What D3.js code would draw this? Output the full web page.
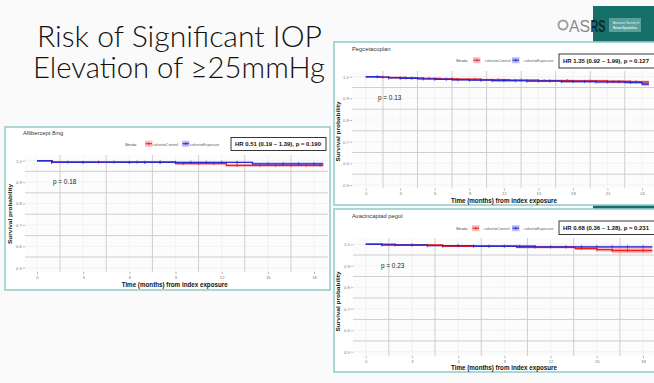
<!DOCTYPE html>
<html><head><meta charset="utf-8">
<script src="https://cdn.jsdelivr.net/npm/d3@7"></script>
<style>html,body{margin:0;padding:0;background:#fafafa;} svg{display:block;}</style>
</head><body>
<svg id="c" width="654" height="383"></svg>
<script>
// ---------------- DATA ----------------
const slideTitle = ["Risk of Significant IOP", "Elevation of \u226525mmHg"];
const strata = ["cohort=Control", "cohort=Exposure"];
const panelNames = ["Aflibercept 8mg", "Pegcetacoplan", "Avacincaptad pegol"];
const hrLabels = ["HR 0.51 (0.19 \u2013 1.39), p = 0.190", "HR 1.35 (0.92 \u2013 1.99), p = 0.127", "HR 0.68 (0.36 \u2013 1.28), p = 0.231"];
const pLabels = ["p = 0.18", "p = 0.13", "p = 0.23"];
const yTicks = [0.5, 0.6, 0.7, 0.8, 0.9, 1.0];
const xTicks18 = [0, 3, 6, 9, 12, 15, 18];
const xTicks24 = [0, 3, 6, 9, 12, 15, 18, 21, 24];
const xTitle = "Time (months) from index exposure";
const yTitle = "Survival probability";

// Aflibercept 8mg
const aflCtrlTime = [0, 1.0, 9.0, 12.3, 18.6];
const aflCtrlSurv = [1, 0.994, 0.987, 0.978, 0.978];
const aflCtrlLow  = [1, 0.990, 0.981, 0.970, 0.970];
const aflCtrlHigh = [1, 0.997, 0.992, 0.986, 0.986];
const aflCtrlCens = [2, 4, 5, 6.5, 8, 9.5, 10.5, 11.5, 13, 14.5, 15.5, 16.5, 17.5, 18.4];
const aflExpTime = [0, 0.95, 14.0, 18.6];
const aflExpSurv = [1, 0.992, 0.985, 0.985];
const aflExpLow  = [1, 0.989, 0.977, 0.977];
const aflExpHigh = [1, 0.995, 0.993, 0.993];
const aflExpCens = [0.95, 3, 6, 7, 8, 9, 10, 11, 12, 13, 15, 16, 17, 18];

// Pegcetacoplan
const pegCtrlTime = [0, 1.0, 2.0, 3.5, 5.0, 6.5, 8.0, 10.0, 12.5, 15.0, 18.0, 21.0, 23.0, 24.6];
const pegCtrlSurv = [1, 0.998, 0.996, 0.994, 0.992, 0.990, 0.988, 0.986, 0.984, 0.982, 0.980, 0.978, 0.976, 0.976];
const pegCtrlLow  = [1, 0.997, 0.994, 0.991, 0.989, 0.986, 0.984, 0.982, 0.979, 0.977, 0.974, 0.971, 0.969, 0.969];
const pegCtrlHigh = [1, 0.999, 0.998, 0.997, 0.995, 0.994, 0.992, 0.990, 0.989, 0.987, 0.986, 0.985, 0.983, 0.983];
const pegCtrlCens = [1.5, 3.5, 5.5, 7.5, 9.5, 11.5, 13.5, 15.5, 17.5, 19.5, 21.5, 23.5];
const pegExpTime = [0, 1.3, 2.0, 3.0, 4.5, 6.0, 7.5, 9.0, 11.0, 14.0, 17.0, 20.0, 22.5, 24.0, 24.6];
const pegExpSurv = [1, 0.998, 0.995, 0.993, 0.990, 0.988, 0.986, 0.984, 0.982, 0.980, 0.978, 0.976, 0.974, 0.966, 0.966];
const pegExpLow  = [1, 0.997, 0.993, 0.990, 0.987, 0.985, 0.982, 0.980, 0.978, 0.975, 0.973, 0.970, 0.968, 0.957, 0.957];
const pegExpHigh = [1, 0.999, 0.997, 0.996, 0.993, 0.991, 0.990, 0.988, 0.986, 0.985, 0.983, 0.982, 0.980, 0.975, 0.975];
const pegExpCens = [1, 2, 3, 4, 5, 6, 7, 8, 9, 10, 11, 12, 13, 14, 15, 16, 17, 18, 19, 20, 21, 22, 23];

// Avacincaptad pegol
const avaCtrlTime = [0, 1.9, 5.0, 9.8, 13.6, 15.0, 16.0, 18.6];
const avaCtrlSurv = [1, 0.997, 0.991, 0.986, 0.980, 0.975, 0.971, 0.971];
const avaCtrlLow  = [1, 0.994, 0.987, 0.981, 0.973, 0.966, 0.958, 0.958];
const avaCtrlHigh = [1, 0.999, 0.995, 0.991, 0.987, 0.984, 0.983, 0.983];
const avaCtrlCens = [1.9, 5, 14, 15, 16, 17, 18];
const avaExpTime = [0, 1.05, 4.0, 7.0, 11.0, 18.6];
const avaExpSurv = [1, 0.997, 0.994, 0.991, 0.988, 0.988];
const avaExpLow  = [1, 0.995, 0.991, 0.987, 0.983, 0.983];
const avaExpHigh = [1, 0.999, 0.997, 0.995, 0.993, 0.993];
const avaExpCens = [1.05, 3, 4, 6, 7, 8, 9, 10, 11, 12, 13, 14, 15, 16, 17, 18];

// ---------------- STYLE / LAYOUT ----------------
const FONT = "'Liberation Sans', Arial, sans-serif";
const RED = "#f01e1e", BLUE = "#2a2ad0";
const RED_FILL = "rgba(245,90,90,0.40)", BLUE_FILL = "rgba(90,90,245,0.40)";

const svg = d3.select("#c");
svg.append("rect").attr("width", 654).attr("height", 383).attr("fill", "#fafafa");

// slide title
const titleCfg = [{x: 37, y: 47, len: 285}, {x: 33, y: 78, len: 292}];
slideTitle.forEach((t, i) => {
  svg.append("text").attr("x", titleCfg[i].x).attr("y", titleCfg[i].y)
    .attr("font-family", "Lato, 'Open Sans', sans-serif").attr("font-weight", 300)
    .attr("font-size", 30).attr("fill", "#111")
    .attr("textLength", titleCfg[i].len).attr("lengthAdjust", "spacingAndGlyphs")
    .text(t);
});

// logo
svg.append("rect").attr("x", 593).attr("y", 6).attr("width", 61).attr("height", 36).attr("fill", "#176f6a");
svg.append("rect").attr("x", 593).attr("y", 205).attr("width", 61).attr("height", 4).attr("fill", "#176f6a");
svg.append("rect").attr("x", 609).attr("y", 18).attr("width", 32).attr("height", 14).attr("fill", "#58a09b");
svg.append("circle").attr("cx", 563).attr("cy", 25).attr("r", 4.5).attr("fill", "none").attr("stroke", "#a0a0a0").attr("stroke-width", 2);
svg.append("text").attr("x", 569).attr("y", 31.5).attr("font-family", FONT).attr("font-size", 16)
  .attr("fill", "#8a8a8a").attr("textLength", 21).attr("lengthAdjust", "spacingAndGlyphs").text("AS");
svg.append("text").attr("x", 590.5).attr("y", 31.5).attr("font-family", FONT).attr("font-size", 16).attr("font-weight", "bold")
  .attr("fill", "#0e2a30").attr("textLength", 15).attr("lengthAdjust", "spacingAndGlyphs").text("RS");
svg.append("text").attr("x", 613).attr("y", 24).attr("font-family", FONT).attr("font-size", 3.2).attr("fill", "#e8f3f2")
  .attr("textLength", 26).attr("lengthAdjust", "spacingAndGlyphs").text("American Society of");
svg.append("text").attr("x", 613).attr("y", 29).attr("font-family", FONT).attr("font-size", 3.2).attr("font-weight", "bold").attr("fill", "#e8f3f2")
  .attr("textLength", 24).attr("lengthAdjust", "spacingAndGlyphs").text("Retina Specialists");

function mk(t, s, lo, hi) { return t.map((d, i) => ({t: d, s: s[i], lo: lo[i], hi: hi[i]})); }

const panels = [
  {
    frame: [5, 127, 325, 163], plot: [25, 155, 328, 272],
    x0: 37, xMaxPx: 314, xTicks: xTicks18, y10: 160.7, y05: 267.7,
    title: [23, 135], legendY: 145.5, legend: [125, 145, 152.5, 182, 190],
    hr: [231, 137.5, 95, 13], p: [53, 184], xlab: [174.7, 286.5], ylab: [9.5, 214],
    series: [
      {col: RED, fill: RED_FILL, d: mk(aflCtrlTime, aflCtrlSurv, aflCtrlLow, aflCtrlHigh), cens: aflCtrlCens},
      {col: BLUE, fill: BLUE_FILL, d: mk(aflExpTime, aflExpSurv, aflExpLow, aflExpHigh), cens: aflExpCens}
    ]
  },
  {
    frame: [334, 42, 324, 163], plot: [352, 71, 656, 188.5],
    x0: 365.7, xMaxPx: 642, xTicks: xTicks24, y10: 76.7, y05: 185,
    title: [352, 51], legendY: 62, legend: [456, 473, 485, 512, 524],
    hr: [559, 54, 97, 14], p: [378, 100], xlab: [504, 202.5], ylab: [337.8, 131.5],
    series: [
      {col: RED, fill: RED_FILL, d: mk(pegCtrlTime, pegCtrlSurv, pegCtrlLow, pegCtrlHigh), cens: pegCtrlCens},
      {col: BLUE, fill: BLUE_FILL, d: mk(pegExpTime, pegExpSurv, pegExpLow, pegExpHigh), cens: pegExpCens}
    ]
  },
  {
    frame: [334, 209, 324, 163], plot: [353, 238, 656, 356],
    x0: 365.7, xMaxPx: 643, xTicks: xTicks18, y10: 244.3, y05: 351.7,
    title: [352, 218], legendY: 230, legend: [456, 472, 484, 512, 524],
    hr: [559, 221, 97, 13.5], p: [381, 268], xlab: [504, 370], ylab: [337.8, 301.5],
    series: [
      {col: RED, fill: RED_FILL, d: mk(avaCtrlTime, avaCtrlSurv, avaCtrlLow, avaCtrlHigh), cens: avaCtrlCens},
      {col: BLUE, fill: BLUE_FILL, d: mk(avaExpTime, avaExpSurv, avaExpLow, avaExpHigh), cens: avaExpCens}
    ]
  }
];

panels.forEach((cfg, pi) => {
  const g = svg.append("g");
  const [fx, fy, fw, fh] = cfg.frame;
  g.append("rect").attr("x", fx).attr("y", fy).attr("width", fw).attr("height", fh)
    .attr("fill", "#ffffff").attr("stroke", "#97cfcc").attr("stroke-width", 1.6);

  const [px0, py0, px1, py1] = cfg.plot;
  const xMax = cfg.xTicks[cfg.xTicks.length - 1];
  const x = d3.scaleLinear().domain([0, xMax]).range([cfg.x0, cfg.xMaxPx]);
  const y = d3.scaleLinear().domain([0.5, 1.0]).range([cfg.y05, cfg.y10]);

  const clipId = "clip" + pi;
  g.append("clipPath").attr("id", clipId).append("rect")
    .attr("x", px0).attr("y", py0).attr("width", px1 - px0).attr("height", py1 - py0);

  g.append("rect").attr("x", px0).attr("y", py0).attr("width", px1 - px0).attr("height", py1 - py0).attr("fill", "#fcfcfc");

  const grid = g.append("g").attr("clip-path", `url(#${clipId})`);
  const xMid = d3.pairs(cfg.xTicks).map(([a, b]) => (a + b) / 2);
  const yMid = d3.pairs(yTicks).map(([a, b]) => (a + b) / 2);
  cfg.xTicks.forEach(v => grid.append("line").attr("x1", x(v)).attr("x2", x(v)).attr("y1", py0).attr("y2", py1).attr("stroke", "#ececec").attr("stroke-width", 0.6));
  yTicks.forEach(v => grid.append("line").attr("x1", px0).attr("x2", px1).attr("y1", y(v)).attr("y2", y(v)).attr("stroke", "#ececec").attr("stroke-width", 0.6));
  xMid.forEach(v => grid.append("line").attr("x1", x(v)).attr("x2", x(v)).attr("y1", py0).attr("y2", py1).attr("stroke", "#c9c9c9").attr("stroke-width", 0.9));
  yMid.forEach(v => grid.append("line").attr("x1", px0).attr("x2", px1).attr("y1", y(v)).attr("y2", y(v)).attr("stroke", "#c9c9c9").attr("stroke-width", 0.9));

  // axes
  const xa = g.append("g").attr("transform", `translate(0,${py1})`)
    .call(d3.axisBottom(x).tickValues(cfg.xTicks).tickSize(2.2).tickPadding(1.5).tickFormat(d3.format("d")));
  const ya = g.append("g").attr("transform", `translate(${px0},0)`)
    .call(d3.axisLeft(y).tickValues(yTicks).tickSize(2.2).tickPadding(1).tickFormat(d3.format(".1f")));
  [xa, ya].forEach(a => {
    a.select(".domain").remove();
    a.selectAll(".tick line").attr("stroke", "#888").attr("stroke-width", 0.6);
    a.selectAll(".tick text").attr("font-family", FONT).attr("font-size", 4.2).attr("fill", "#777");
  });

  // curves
  const plotG = g.append("g").attr("clip-path", `url(#${clipId})`);
  const area = d3.area().x(d => x(d.t)).y0(d => y(d.lo)).y1(d => y(d.hi)).curve(d3.curveStepAfter);
  const line = d3.line().x(d => x(d.t)).y(d => y(d.s)).curve(d3.curveStepAfter);
  cfg.series.forEach(s => plotG.append("path").attr("d", area(s.d)).attr("fill", s.fill));
  cfg.series.forEach(s => {
    plotG.append("path").attr("d", line(s.d)).attr("fill", "none").attr("stroke", s.col).attr("stroke-width", 1.4);
    s.cens.forEach(c => {
      let idx = 0; s.d.forEach((d, i) => { if (d.t <= c) idx = i; });
      const yy = y(s.d[idx].s);
      plotG.append("line").attr("x1", x(c)).attr("x2", x(c)).attr("y1", yy - 1.6).attr("y2", yy + 1.6)
        .attr("stroke", s.col).attr("stroke-width", 0.8);
    });
  });

  // title
  g.append("text").attr("x", cfg.title[0]).attr("y", cfg.title[1]).attr("font-family", FONT)
    .attr("font-size", 5.8).attr("fill", "#333").text(panelNames[pi]);

  // legend
  const [lx, rsx, ctx, bsx, etx] = cfg.legend;
  const ly = cfg.legendY;
  g.append("text").attr("x", lx).attr("y", ly).attr("font-family", FONT).attr("font-size", 4.3).attr("fill", "#444").text("Strata");
  [[rsx, ctx, 0], [bsx, etx, 1]].forEach(([sx, tx, k]) => {
    const s = cfg.series[k];
    g.append("rect").attr("x", sx).attr("y", ly - 4.8).attr("width", 7.5).attr("height", 6).attr("fill", s.fill);
    g.append("line").attr("x1", sx + 0.5).attr("x2", sx + 7).attr("y1", ly - 1.8).attr("y2", ly - 1.8).attr("stroke", s.col).attr("stroke-width", 1.1);
    g.append("line").attr("x1", sx + 3.75).attr("x2", sx + 3.75).attr("y1", ly - 3.3).attr("y2", ly - 0.3).attr("stroke", s.col).attr("stroke-width", 0.7);
    g.append("text").attr("x", tx).attr("y", ly).attr("font-family", FONT).attr("font-size", 3.9).attr("fill", "#666").text(strata[k]);
  });

  // HR box
  const [hx, hy, hw, hh] = cfg.hr;
  g.append("rect").attr("x", hx).attr("y", hy).attr("width", hw).attr("height", hh)
    .attr("fill", "#fff").attr("stroke", "#222").attr("stroke-width", 0.9);
  g.append("text").attr("x", hx + 4).attr("y", hy + hh / 2 + 2.1).attr("font-family", FONT).attr("font-weight", "bold")
    .attr("font-size", 6).attr("fill", "#111").attr("textLength", 86).attr("lengthAdjust", "spacingAndGlyphs").text(hrLabels[pi]);

  // p value
  g.append("text").attr("x", cfg.p[0]).attr("y", cfg.p[1]).attr("font-family", FONT)
    .attr("font-size", 6.4).attr("fill", "#222").text(pLabels[pi]);

  // axis titles
  g.append("text").attr("x", cfg.xlab[0]).attr("y", cfg.xlab[1]).attr("text-anchor", "middle")
    .attr("font-family", FONT).attr("font-weight", "bold").attr("font-size", 6.6).attr("fill", "#111")
    .attr("textLength", 106).attr("lengthAdjust", "spacingAndGlyphs").text(xTitle);
  g.append("text").attr("transform", `translate(${cfg.ylab[0]},${cfg.ylab[1]}) rotate(-90)`)
    .attr("text-anchor", "middle").attr("dominant-baseline", "central")
    .attr("font-family", FONT).attr("font-weight", "bold").attr("font-size", 6.2).attr("fill", "#111")
    .attr("textLength", 60).attr("lengthAdjust", "spacingAndGlyphs").text(yTitle);
});
</script></body></html>
